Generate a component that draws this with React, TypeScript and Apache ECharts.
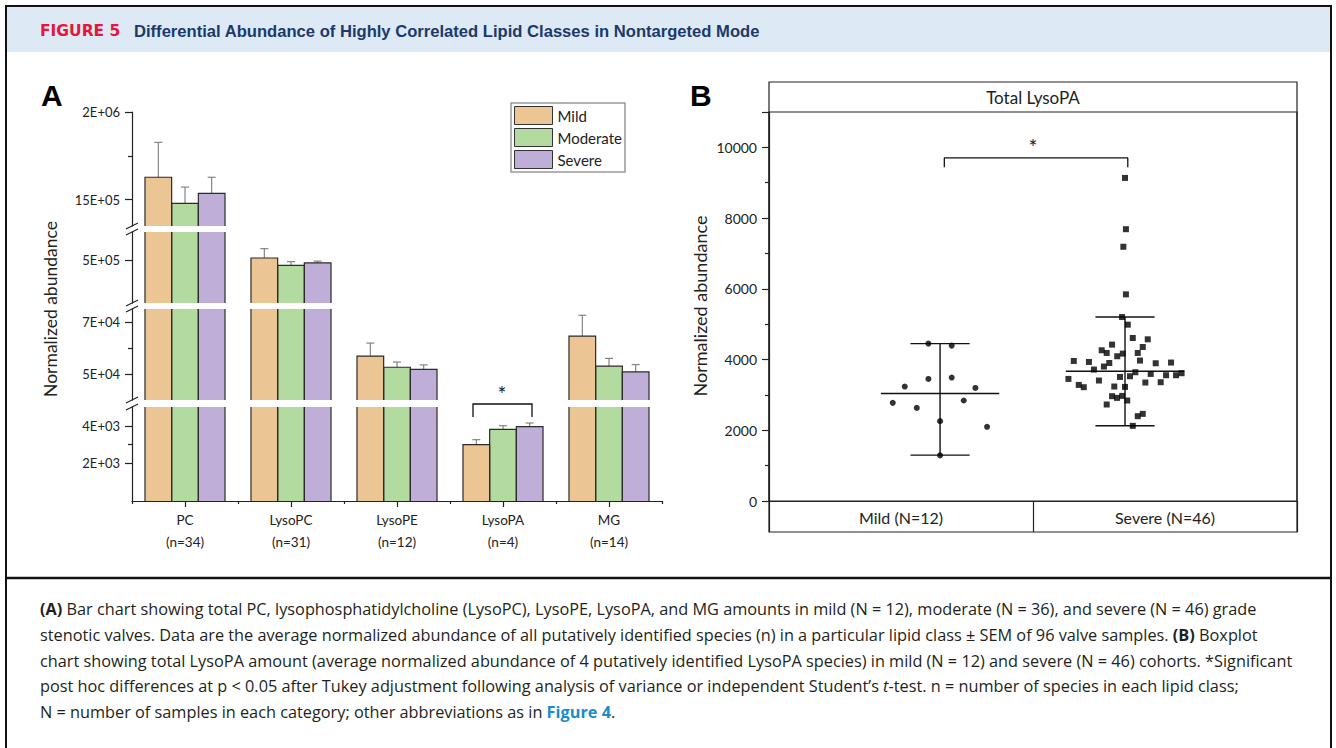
import React, { useEffect, useRef } from 'react';
import * as echarts from 'echarts';

// ---------- Panel A data ----------
const categories = ['PC', 'LysoPC', 'LysoPE', 'LysoPA', 'MG'];
const speciesCounts = ['n=34', 'n=31', 'n=12', 'n=4', 'n=14'];
const groups = ['Mild', 'Moderate', 'Severe'];
const mildMean = [1628000, 503400, 56900, 2995, 64600];
const mildSem = [199000, 13100, 5000, 266, 8000];
const moderateMean = [1479000, 493100, 52600, 3814, 53000];
const moderateSem = [93000, 5100, 2000, 191, 3000];
const severeMean = [1536000, 496400, 51800, 3952, 50800];
const severeSem = [92000, 2600, 1700, 197, 2800];

// broken y-axis segments, top to bottom
const segMin = [1350000, 440000, 40000, 0];
const segMax = [2000000, 540000, 75000, 5000];
const segTicks = [[1500000, 2000000], [500000], [50000, 70000], [2000, 4000]];
const segTickLabels = [['15E+05', '2E+06'], ['5E+05'], ['5E+04', '7E+04'], ['2E+03', '4E+03']];
const segMinorTicks = [[1750000], [], [60000], [3000]];

// ---------- Panel B data ----------
const bCategories = ['Mild (N=12)', 'Severe (N=46)'];
const mildX = [0.937, 1.063, 0.937, 1.063, 0.809, 1.191, 0.744, 0.874, 1.128, 1.0, 1.254, 1.0];
const mildY = [4451, 4394, 3452, 3491, 3237, 3198, 2775, 2633, 2842, 2258, 2097, 1290];
const severeX = [1.984, 2.015, 2.042, 2.123, 1.930, 2.096, 1.874, 1.901, 1.988, 1.958, 2.069, 2.081,
  1.723, 1.805, 1.915, 2.166, 2.249, 1.886, 1.832, 2.056, 2.139, 2.222, 2.276, 2.306, 1.694, 1.859,
  1.973, 2.027, 1.750, 1.777, 2.110, 2.193, 1.942, 2.000, 1.930, 1.957, 1.985, 2.012, 1.901, 2.069,
  2.096, 2.042, 2.000, 2.005, 1.991, 2.005];
const severeY = [5202, 4986, 4609, 4572, 4422, 4355, 4262, 4186, 4168, 4093, 4186, 3971,
  3960, 3932, 3903, 3895, 3915, 3802, 3717, 3641, 3593, 3556, 3556, 3613, 3452, 3407,
  3508, 3528, 3283, 3218, 3350, 3359, 3237, 3226, 2964, 2916, 2972, 2842, 2729, 2399,
  2464, 2125, 9136, 7686, 7189, 5843];
const groupPos = [1, 2];
const groupCenter = [3040, 3669];
const groupLow = [1298, 2126];
const groupHigh = [4451, 5202];
const bracketB = [[1.023, 9436], [1.023, 9701], [2.015, 9701], [2.015, 9436]];
const bYMax = 11000;
const bYLabelMax = 10000;

const colors = ['#ecc594', '#b3dba0', '#bfaed7'];
const means = [mildMean, moderateMean, severeMean];
const sems = [mildSem, moderateSem, severeSem];

const FONT = 'Lato, "Open Sans", sans-serif';
const CAP_FONT = '"Open Sans", "Noto Sans", sans-serif';
const INK = '#222';

const gridTops = [112, 232, 309, 407];
const gridHeights = [114, 71, 91, 94];
const GAP_FRAC = 0.755;

function buildOption() {
  const grids: any[] = gridTops.map((t, g) => ({ left: 132, top: t, width: 530, height: gridHeights[g] }));
  grids.push({ left: 769, top: 112, width: 528, height: 389, show: true, borderColor: INK, borderWidth: 1.2 });

  const xAxis: any[] = [];
  const yAxis: any[] = [];
  for (let g = 0; g < 4; g++) {
    const bottom = g === 3;
    xAxis.push({
      type: 'category', gridIndex: g, data: categories, show: bottom,
      axisLine: { show: bottom, onZero: false, lineStyle: { color: INK, width: 1.2 } },
      axisTick: { show: bottom, alignWithLabel: true, length: 6, lineStyle: { color: INK, width: 1.2 } },
      axisLabel: {
        show: bottom, margin: 8, fontSize: 13.5, fontFamily: FONT, color: INK, lineHeight: 22,
        formatter: (v: string, i: number) => `${v}\n(${speciesCounts[i]})`,
      },
      splitLine: { show: false },
    });
  }
  // boundary ticks (x index 4)
  xAxis.push({
    type: 'value', gridIndex: 3, min: 0, max: 5, interval: 1, position: 'bottom',
    axisLine: { show: false, onZero: false }, axisLabel: { show: false }, splitLine: { show: false },
    axisTick: { show: true, length: 3, lineStyle: { color: INK, width: 1.2 } },
  });
  // panel B x axes (5: value, 6: category)
  xAxis.push({
    type: 'value', gridIndex: 4, min: 0.075, max: 2.93, show: false,
    axisLine: { onZero: false }, splitLine: { show: false },
  });
  xAxis.push({
    type: 'category', gridIndex: 4, data: bCategories, position: 'bottom',
    axisLine: { show: true, onZero: false, lineStyle: { color: INK, width: 1.2 } },
    axisTick: { show: true, length: 31, alignWithLabel: false, lineStyle: { color: INK, width: 1.2 } },
    axisLabel: { margin: 8, fontSize: 16, fontFamily: FONT, color: INK },
    splitLine: { show: false },
  });

  for (let g = 0; g < 4; g++) {
    yAxis.push({
      type: 'value', gridIndex: g, min: segMin[g], max: segMax[g], position: 'left',
      axisLine: { show: true, onZero: false, lineStyle: { color: INK, width: 1.2 } },
      axisTick: { show: true, length: 7, customValues: segTicks[g], lineStyle: { color: INK, width: 1.2 } },
      axisLabel: {
        show: true, margin: 12, fontSize: 13, fontFamily: FONT, color: INK,
        customValues: segTicks[g],
        formatter: (v: number) => {
          const idx = segTicks[g].indexOf(v);
          return idx >= 0 ? segTickLabels[g][idx] : '';
        },
      },
      splitLine: { show: false },
    });
  }
  for (let g = 0; g < 4; g++) {
    yAxis.push({
      type: 'value', gridIndex: g, min: segMin[g], max: segMax[g], position: 'left',
      show: segMinorTicks[g].length > 0,
      axisLine: { show: false, onZero: false },
      axisTick: { show: true, length: 4, customValues: segMinorTicks[g], lineStyle: { color: INK, width: 1.2 } },
      axisLabel: { show: false }, splitLine: { show: false },
    });
  }
  // panel B y axis (index 8)
  yAxis.push({
    type: 'value', gridIndex: 4, min: 0, max: bYMax, interval: 2000, position: 'left',
    axisLine: { show: true, onZero: false, lineStyle: { color: INK, width: 1.2 } },
    axisTick: { show: true, length: 7, lineStyle: { color: INK, width: 1.2 } },
    minorTick: { show: true, splitNumber: 2, length: 4, lineStyle: { color: INK, width: 1.2 } },
    axisLabel: {
      margin: 12, fontSize: 14, fontFamily: FONT, color: INK, showMaxLabel: false,
      formatter: (v: number) => (v > bYLabelMax ? '' : String(v)),
    },
    splitLine: { show: false },
  });

  const series: any[] = [];
  for (let g = 0; g < 4; g++) {
    for (let k = 0; k < 3; k++) {
      series.push({
        name: groups[k], type: 'bar', xAxisIndex: g, yAxisIndex: g,
        data: means[k], barGap: '0%', barCategoryGap: '24.5%',
        itemStyle: { color: colors[k], borderWidth: 0 }, silent: true, clip: true,
      });
    }
  }
  for (let g = 0; g < 4; g++) {
    for (let k = 0; k < 3; k++) {
      const lo = segMin[g];
      const hi = segMax[g];
      series.push({
        name: `outline-${g}-${k}`, type: 'custom', xAxisIndex: g, yAxisIndex: g, z: 3, silent: true,
        data: categories.map((_, i) => [i, means[k][i], sems[k][i]]),
        renderItem: (_p: any, api: any) => {
          const i = api.value(0);
          const v = api.value(1);
          const e = api.value(2);
          if (v <= lo) return null;
          const band = api.size([1, 0])[0];
          const bw = (band * GAP_FRAC) / 3;
          const base = api.coord([i, lo]);
          const cx = base[0] + (k - 1) * bw;
          const yb = base[1];
          const yt = api.coord([i, Math.min(v, hi)])[1];
          const x0 = cx - bw / 2;
          const x1 = cx + bw / 2;
          const st = { stroke: '#2b2b2b', lineWidth: 1.2, fill: 'none' };
          const children: any[] = [];
          if (v <= hi) {
            const ye = api.coord([i, v + e])[1];
            const es = { stroke: '#7a7a7a', lineWidth: 1.1 };
            children.push({ type: 'line', shape: { x1: cx, y1: yt, x2: cx, y2: ye }, style: es });
            children.push({ type: 'line', shape: { x1: cx - 4, y1: ye, x2: cx + 4, y2: ye }, style: es });
            children.push({ type: 'polyline', shape: { points: [[x0, yb], [x0, yt], [x1, yt], [x1, yb]] }, style: st });
          } else {
            children.push({ type: 'line', shape: { x1: x0, y1: yb, x2: x0, y2: yt }, style: st });
            children.push({ type: 'line', shape: { x1: x1, y1: yb, x2: x1, y2: yt }, style: st });
          }
          return { type: 'group', children };
        },
      });
    }
  }

  // Panel B
  series.push({
    name: 'Mild points', type: 'scatter', xAxisIndex: 5, yAxisIndex: 8, symbol: 'circle', symbolSize: 6,
    itemStyle: { color: '#000' }, data: mildX.map((x, i) => [x, mildY[i]]), silent: true, z: 4,
  });
  series.push({
    name: 'Severe points', type: 'scatter', xAxisIndex: 5, yAxisIndex: 8, symbol: 'rect', symbolSize: 6,
    itemStyle: { color: '#000' }, data: severeX.map((x, i) => [x, severeY[i]]), silent: true, z: 4,
  });
  series.push({
    name: 'summary', type: 'custom', xAxisIndex: 5, yAxisIndex: 8, z: 3, silent: true,
    data: groupPos.map((p, i) => [p, groupCenter[i], groupLow[i], groupHigh[i]]),
    renderItem: (_p: any, api: any) => {
      const x = api.value(0);
      const c = api.coord([x, api.value(1)]);
      const lo = api.coord([x, api.value(2)]);
      const hi = api.coord([x, api.value(3)]);
      const ww = api.size([0.32, 0])[0] / 2;
      const cw = api.size([0.64, 0])[0] / 2;
      const s = { stroke: '#111', lineWidth: 1.4 };
      return {
        type: 'group', children: [
          { type: 'line', shape: { x1: c[0], y1: lo[1], x2: c[0], y2: hi[1] }, style: s },
          { type: 'line', shape: { x1: c[0] - ww, y1: lo[1], x2: c[0] + ww, y2: lo[1] }, style: s },
          { type: 'line', shape: { x1: c[0] - ww, y1: hi[1], x2: c[0] + ww, y2: hi[1] }, style: s },
          { type: 'line', shape: { x1: c[0] - cw, y1: c[1], x2: c[0] + cw, y2: c[1] }, style: s },
        ],
      };
    },
  });
  series.push({
    name: 'bracket B', type: 'line', xAxisIndex: 5, yAxisIndex: 8, data: bracketB, symbol: 'none',
    lineStyle: { color: '#111', width: 1.3 }, silent: true,
  });

  // graphics
  const breakMarks: any[] = [];
  for (let g = 0; g < 3; g++) {
    const gt = gridTops[g] + gridHeights[g];
    const gb = gridTops[g + 1];
    [gt, gb].forEach((y) => {
      breakMarks.push({ type: 'line', shape: { x1: 126, y1: y + 3, x2: 138, y2: y - 3 }, style: { stroke: INK, lineWidth: 1.2 } });
    });
  }

  const CAP_SIZE = 16.3;
  const capStyle = (extra: any = {}) => ({ fontSize: CAP_SIZE, fontFamily: CAP_FONT, fill: '#231f20', ...extra });
  const rich = {
    b: capStyle({ fontWeight: 'bold' }),
    i: capStyle({ fontStyle: 'italic' }),
    f: capStyle({ fontWeight: 'bold', fill: '#1b8bc9' }),
  };
  const captionLines = [
    '{b|(A)} Bar chart showing total PC, lysophosphatidylcholine (LysoPC), LysoPE, LysoPA, and MG amounts in mild (N = 12), moderate (N = 36), and severe (N = 46) grade',
    'stenotic valves. Data are the average normalized abundance of all putatively identified species (n) in a particular lipid class ± SEM of 96 valve samples. {b|(B)} Boxplot',
    'chart showing total LysoPA amount (average normalized abundance of 4 putatively identified LysoPA species) in mild (N = 12) and severe (N = 46) cohorts. *Significant',
    'post hoc differences at p < 0.05 after Tukey adjustment following analysis of variance or independent Student\u2019s {i|t}-test. n = number of species in each lipid class;',
    'N = number of samples in each category; other abbreviations as in {f|Figure 4}.',
  ];
  const captionY = [609, 635, 661, 686, 712];

  const graphic: any[] = [
    { type: 'rect', shape: { x: 7, y: 7, width: 1323, height: 45 }, style: { fill: '#dde9f5' }, silent: true },
    { type: 'rect', shape: { x: 6, y: 6, width: 1325, height: 800 }, style: { fill: 'none', stroke: '#111', lineWidth: 2 }, silent: true },
    { type: 'line', shape: { x1: 6, y1: 578, x2: 1331, y2: 578 }, style: { stroke: '#111', lineWidth: 2.5 }, silent: true },
    { type: 'text', x: 40, y: 31, style: { text: 'FIGURE 5', fontSize: 15.5, fontWeight: 'bold', fontFamily: '"DejaVu Sans", sans-serif', fill: '#e4173e', verticalAlign: 'middle' } },
    { type: 'text', x: 134, y: 31, style: { text: 'Differential Abundance of Highly Correlated Lipid Classes in Nontargeted Mode', fontSize: 16.6, fontWeight: 'bold', fontFamily: '"Liberation Sans", Arial, sans-serif', fill: '#1b3a6b', verticalAlign: 'middle' } },
    { type: 'text', x: 41, y: 95, style: { text: 'A', fontSize: 30, fontWeight: 'bold', fontFamily: '"Liberation Sans", Arial, sans-serif', fill: '#000', verticalAlign: 'middle' } },
    { type: 'text', x: 690, y: 95, style: { text: 'B', fontSize: 30, fontWeight: 'bold', fontFamily: '"Liberation Sans", Arial, sans-serif', fill: '#000', verticalAlign: 'middle' } },
    { type: 'text', x: 50, y: 309, rotation: Math.PI / 2, style: { text: 'Normalized abundance', fontSize: 17.5, fontFamily: FONT, fill: INK, align: 'center', verticalAlign: 'middle' } },
    { type: 'text', x: 700, y: 306, rotation: Math.PI / 2, style: { text: 'Normalized abundance', fontSize: 18, fontFamily: FONT, fill: INK, align: 'center', verticalAlign: 'middle' } },
    { type: 'rect', shape: { x: 769, y: 82, width: 528, height: 450 }, style: { fill: 'none', stroke: INK, lineWidth: 1.2 }, silent: true },
    { type: 'text', x: 1033, y: 97, style: { text: 'Total LysoPA', fontSize: 17, fontFamily: FONT, fill: INK, align: 'center', verticalAlign: 'middle' } },
    { type: 'text', x: 1033, y: 146, style: { text: '*', fontSize: 21, fontFamily: FONT, fill: INK, align: 'center', verticalAlign: 'middle' } },
    { type: 'polyline', shape: { points: [[473, 417], [473, 404], [532, 404], [532, 417]] }, style: { stroke: '#111', lineWidth: 1.3, fill: 'none' } },
    { type: 'text', x: 502, y: 393, style: { text: '*', fontSize: 21, fontFamily: FONT, fill: INK, align: 'center', verticalAlign: 'middle' } },
    ...breakMarks,
    ...captionLines.map((t, i) => ({
      type: 'text', x: 40, y: captionY[i],
      style: { text: t, ...capStyle(), verticalAlign: 'middle', rich },
    })),
  ];

  return {
    animation: false,
    backgroundColor: '#fff',
    grid: grids,
    xAxis, yAxis, series, graphic,
    legend: {
      data: groups, left: 511, top: 103, orient: 'vertical', icon: 'rect',
      itemWidth: 38, itemHeight: 18, itemGap: 3, padding: 3,
      borderColor: '#999', borderWidth: 1.5,
      itemStyle: { borderColor: '#333', borderWidth: 1 },
      textStyle: { fontSize: 15, fontFamily: FONT, color: INK },
      selectedMode: false,
    },
  };
}

export default function App() {
  const ref = useRef<HTMLDivElement>(null);
  useEffect(() => {
    const chart = echarts.init(ref.current!, null, { renderer: 'svg' });
    chart.setOption(buildOption() as any);
    return () => chart.dispose();
  }, []);
  return (
    <div
      ref={ref}
      style={{ position: 'absolute', left: 0, top: 0, width: 1336, height: 748, background: '#fff' }}
    />
  );
}
